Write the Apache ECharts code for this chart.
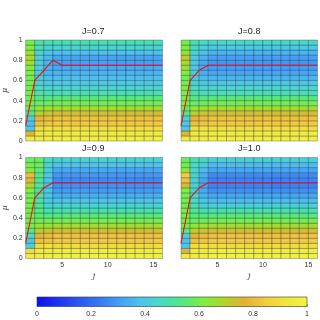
<!DOCTYPE html>
<html>
<head>
<meta charset="utf-8">
<script src="https://cdn.jsdelivr.net/npm/echarts@6/dist/echarts.min.js"></script>
<style>
  html, body { margin: 0; padding: 0; background: #fff; }
  #chart { width: 320px; height: 320px; }
</style>
</head>
<body>
<div id="chart"></div>
<script>
  // rows from mu=0 upward, step 0.05 (20 rows); columns j = 1..15
  var muStep = 0.05;
  var titles = ['J=0.7', 'J=0.8', 'J=0.9', 'J=1.0'];

  // J=0.7
  var c1_07 = [0.95,0.76,0.38,0.38,0.42,0.52,0.58,0.60,0.60,0.60,0.60,0.60,0.60,0.61,0.63,0.66,0.68,0.66,0.62,0.60];
  var c2_07 = [0.96,0.94,0.90,0.82,0.78,0.70,0.64,0.58,0.54,0.50,0.46,0.43,0.42,0.41,0.41,0.41,0.42,0.44,0.47,0.50];
  var c3_07 = [0.96,0.95,0.91,0.83,0.80,0.72,0.66,0.59,0.54,0.48,0.44,0.40,0.38,0.36,0.35,0.35,0.36,0.39,0.44,0.48];
  var bulk07 = [0.97,0.96,0.90,0.84,0.82,0.74,0.67,0.60,0.55,0.48,0.44,0.40,0.38,0.35,0.33,0.31,0.32,0.38,0.44,0.48];
  // J=0.8
  var c1_08 = [0.95,0.76,0.40,0.40,0.44,0.52,0.58,0.60,0.60,0.60,0.60,0.60,0.60,0.62,0.66,0.68,0.72,0.64,0.62,0.60];
  var c2_08 = [0.96,0.94,0.90,0.82,0.78,0.70,0.64,0.58,0.54,0.50,0.46,0.43,0.41,0.40,0.40,0.40,0.41,0.43,0.46,0.49];
  var c3_08 = [0.96,0.95,0.91,0.83,0.80,0.72,0.66,0.59,0.54,0.48,0.44,0.40,0.37,0.34,0.33,0.33,0.35,0.38,0.42,0.46];
  var bulk08 = [0.97,0.96,0.90,0.84,0.82,0.74,0.67,0.60,0.55,0.48,0.44,0.40,0.36,0.32,0.30,0.29,0.31,0.35,0.40,0.45];
  // J=0.9
  var c1_09 = [0.94,0.90,0.42,0.40,0.46,0.55,0.60,0.60,0.60,0.60,0.60,0.60,0.60,0.62,0.68,0.76,0.80,0.64,0.60,0.58];
  var c2_09 = [0.96,0.94,0.90,0.82,0.78,0.70,0.64,0.60,0.56,0.54,0.52,0.50,0.50,0.50,0.51,0.52,0.54,0.56,0.58,0.58];
  var c3_09 = [0.96,0.95,0.91,0.83,0.80,0.72,0.66,0.59,0.54,0.48,0.44,0.41,0.39,0.38,0.38,0.39,0.40,0.42,0.44,0.46];
  var bulk09 = [0.97,0.96,0.90,0.84,0.82,0.74,0.67,0.60,0.55,0.48,0.44,0.39,0.34,0.30,0.28,0.27,0.29,0.33,0.38,0.43];
  // J=1.0
  var c1_10 = [0.95,0.76,0.40,0.38,0.42,0.55,0.60,0.60,0.60,0.60,0.60,0.60,0.60,0.62,0.74,0.82,0.84,0.64,0.60,0.58];
  var c2_10 = [0.96,0.94,0.90,0.82,0.78,0.70,0.64,0.58,0.55,0.52,0.49,0.46,0.44,0.43,0.43,0.43,0.44,0.45,0.46,0.48];
  var c3_10 = [0.96,0.95,0.91,0.83,0.80,0.72,0.66,0.59,0.54,0.48,0.43,0.39,0.35,0.33,0.32,0.32,0.34,0.37,0.41,0.45];
  var bulk10 = [0.97,0.96,0.90,0.84,0.82,0.74,0.67,0.60,0.55,0.48,0.43,0.37,0.32,0.28,0.25,0.25,0.27,0.32,0.37,0.42];

  // red curves
  var redJ = [1,2,3,4,5,6,7,8,9,10,11,12,13,14,15,16];
  var red07 = [0.15,0.6,0.7,0.8,0.75,0.75,0.75,0.75,0.75,0.75,0.75,0.75,0.75,0.75,0.75,0.75];
  var red08 = [0.15,0.6,0.7,0.75,0.75,0.75,0.75,0.75,0.75,0.75,0.75,0.75,0.75,0.75,0.75,0.75];
  var red09 = [0.15,0.6,0.7,0.75,0.75,0.75,0.75,0.75,0.75,0.75,0.75,0.75,0.75,0.75,0.75,0.75];
  var red10 = [0.15,0.6,0.7,0.75,0.75,0.75,0.75,0.75,0.75,0.75,0.75,0.75,0.75,0.75,0.75,0.75];

  var mapColors = ['#0a10f0','#1c34f2','#2a56f2','#3678f4','#44a0f6','#4cc4ec',
                   '#48dcc0','#52e882','#7cf03e','#b4d426','#e6b034','#f4cc3c','#f0e63e','#f2f440'];

  var panels = [
    { cols: [c1_07, c2_07, c3_07], bulk: bulk07, red: red07 },
    { cols: [c1_08, c2_08, c3_08], bulk: bulk08, red: red08 },
    { cols: [c1_09, c2_09, c3_09], bulk: bulk09, red: red09 },
    { cols: [c1_10, c2_10, c3_10], bulk: bulk10, red: red10 }
  ];

  var grids = [
    { left: 24, top: 40, width: 138.5, height: 101 },
    { left: 181, top: 40, width: 136.5, height: 101 },
    { left: 24, top: 157.5, width: 138.5, height: 101 },
    { left: 181, top: 157.5, width: 136.5, height: 101 },
    { left: 37, top: 297, width: 270, height: 9.5 }
  ];

  var font = 'Liberation Sans, Arial, sans-serif';

  function renderCell(params, api) {
    var j = api.value(0), mu = api.value(1);
    var p0 = api.coord([j, mu + muStep]);
    var p1 = api.coord([j + 1, mu]);
    return {
      type: 'rect',
      shape: { x: p0[0], y: p0[1], width: p1[0] - p0[0], height: p1[1] - p0[1] },
      style: { fill: api.visual('color'), stroke: 'rgba(0,10,40,0.45)', lineWidth: 0.6 }
    };
  }

  // colour bar: one rect spanning the colour-bar axes, filled with the map
  function renderBar(params, api) {
    var p0 = api.coord([0, 1]);
    var p1 = api.coord([1, 0]);
    var stops = mapColors.map(function (c, k) {
      return { offset: k / (mapColors.length - 1), color: c };
    });
    return {
      type: 'rect',
      shape: { x: p0[0], y: p0[1], width: p1[0] - p0[0], height: p1[1] - p0[1] },
      style: { fill: new echarts.graphic.LinearGradient(0, 0, 1, 0, stops), stroke: '#333', lineWidth: 0.6 }
    };
  }

  var xAxes = [], yAxes = [], series = [], title = [];
  panels.forEach(function (p, i) {
    var bottom = i >= 2, left = i % 2 === 0;
    var g = grids[i];
    xAxes.push({
      type: 'value', gridIndex: i, min: 1, max: 16,
      name: bottom ? 'j' : '', nameLocation: 'middle', nameGap: 13,
      nameTextStyle: { fontSize: 8, fontStyle: 'italic', color: '#333', fontFamily: 'DejaVu Serif, serif' },
      axisLine: { show: false }, splitLine: { show: false },
      axisTick: { show: false },
      axisLabel: { show: bottom, customValues: [5, 10, 15], margin: 3, fontSize: 7, color: '#333', fontFamily: font }
    });
    yAxes.push({
      type: 'value', gridIndex: i, min: 0, max: 1, interval: 0.2,
      name: left ? 'μ' : '', nameLocation: 'middle', nameGap: 14, nameRotate: 90,
      nameTextStyle: { fontSize: 8, fontStyle: 'italic', color: '#333', fontFamily: 'DejaVu Serif, serif' },
      axisLine: { show: false }, splitLine: { show: false },
      axisTick: { show: false },
      axisLabel: { show: left, margin: 3, fontSize: 7, color: '#333', fontFamily: font }
    });

    var cells = [];
    for (var c = 0; c < 15; c++) {
      var col = c < p.cols.length ? p.cols[c] : p.bulk;
      for (var r = 0; r < col.length; r++) {
        cells.push([c + 1, r * muStep, col[r]]);
      }
    }
    series.push({
      type: 'custom', xAxisIndex: i, yAxisIndex: i,
      renderItem: renderCell, data: cells, silent: true,
      encode: { x: 0, y: 1 }
    });
    series.push({
      type: 'line', xAxisIndex: i, yAxisIndex: i,
      data: redJ.map(function (j, k) { return [j, p.red[k]]; }),
      showSymbol: false, silent: true, z: 5,
      lineStyle: { color: '#ee1111', width: 1.1 }
    });
    title.push({
      text: titles[i], left: g.left + g.width / 2, top: g.top - 13, textAlign: 'center', padding: 0,
      textStyle: { fontSize: 9, fontWeight: 'normal', color: '#222', fontFamily: font }
    });
  });

  // colour bar axis
  xAxes.push({
    type: 'value', gridIndex: 4, min: 0, max: 1, interval: 0.2,
    axisLine: { show: false }, splitLine: { show: false },
    axisTick: { show: true, inside: true, length: 2, lineStyle: { color: '#333', width: 0.6 } },
    axisLabel: { margin: 4, fontSize: 7, color: '#333', fontFamily: font }
  });
  yAxes.push({ type: 'value', gridIndex: 4, min: 0, max: 1, show: false });
  series.push({
    type: 'custom', xAxisIndex: 4, yAxisIndex: 4, renderItem: renderBar,
    data: [[0, 0]], silent: true, z: 1
  });

  var option = {
    animation: false,
    title: title,
    grid: grids,
    xAxis: xAxes,
    yAxis: yAxes,
    visualMap: {
      type: 'continuous', min: 0, max: 1, dimension: 2,
      seriesIndex: [0, 2, 4, 6], show: false,
      inRange: { color: mapColors }
    },
    series: series
  };

  var chartObj = echarts.init(document.getElementById('chart'));
  chartObj.setOption(option, true);
</script>
</body>
</html>
